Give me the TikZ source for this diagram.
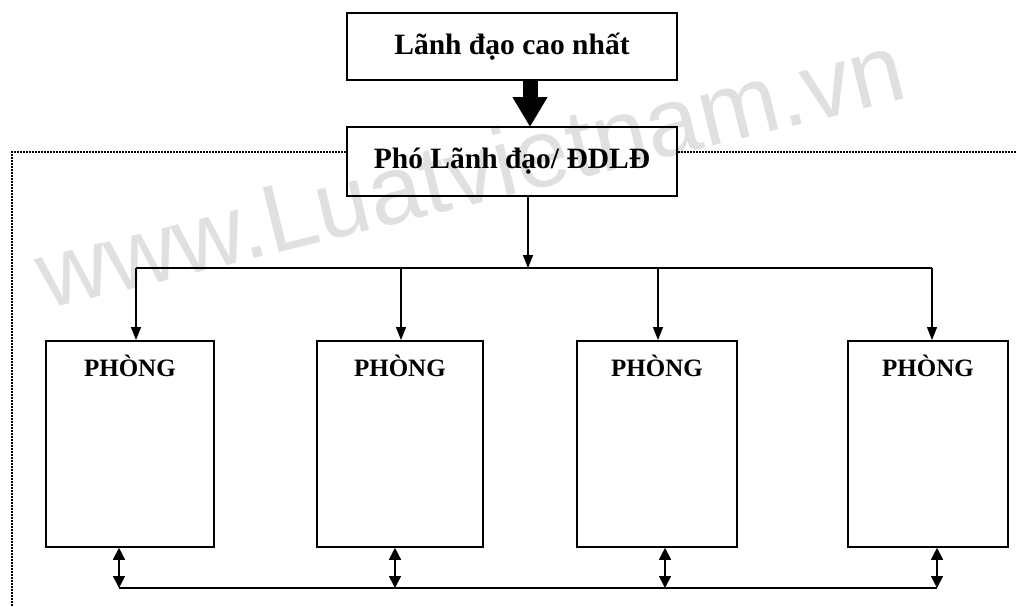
\documentclass[tikz,border=0pt]{standalone}
\usepackage{fontspec}
\setmainfont{Liberation Serif}
\newfontfamily\wmfont{Liberation Sans}
\usetikzlibrary{arrows.meta}
\begin{document}
\begin{tikzpicture}[x=1pt,y=-1pt,
  box/.style={draw,line width=1.8pt,inner sep=0pt},
  lbl/.style={font=\bfseries\fontsize{29.5}{32}\selectfont},
  plbl/.style={font=\bfseries\fontsize{25}{28}\selectfont},
  conn/.style={line width=1.5pt},
  arr/.style={conn,-{Triangle[width=10pt,length=13pt]}},
  dbl/.style={conn,{Triangle[width=12pt,length=12pt]}-{Triangle[width=12pt,length=12pt]}},
  frame/.style={line width=1.8pt,dash pattern=on 1.6pt off 1.4pt}]
\useasboundingbox (0,0) rectangle (1016,606);
\node[rotate=13.8,text=black!12,font=\wmfont\fontsize{97}{100}\selectfont] (wm) at (470,170) {www.Luatvietnam.vn};
% frame
\coordinate (fl) at (12,152);
\coordinate (fr) at (1016,152);
\coordinate (fb) at (12,606);
% top boxes
\node[box,minimum width=330pt,minimum height=67pt] (top) at (512,46.5) {};
\node[lbl] at (top.center) {Lãnh đạo cao nhất};
\node[box,minimum width=330pt,minimum height=69pt] (dep) at (512,161.5) {};
\node[lbl] at (dep.center) {Phó Lãnh đạo/ ĐDLĐ};
\draw[frame] (fb) -- (fl) -- (fl -| dep.west);
\draw[frame] (fr -| dep.east) -- (fr);
% thick arrow
\coordinate (ta) at (530,80);
\coordinate (tb) at (530,127);
\draw[line width=15pt,-{Triangle[width=33pt,length=30pt]}] (ta) -- (tb);
% distribution line
\coordinate (d0) at (528,196);
\coordinate (bus) at (528,268);
\coordinate (b1) at (136,268);
\coordinate (b2) at (401,268);
\coordinate (b3) at (658,268);
\coordinate (b4) at (932,268);
\draw[arr] (d0) -- (bus);
\draw[conn] (b1) -- (b4);
% departments
\foreach \i/\l/\r in {1/45/213,2/316/482,3/576/736,4/847/1007}{
  \node[box,minimum width={\r-\l},minimum height=206pt,anchor=north west] (p\i) at (\l,340) {};
  \node[plbl,anchor=north] (t\i) at ([yshift=-12pt]p\i.north) {PHÒNG};
}
\draw[arr] (b1) -- (b1 |- p1.north);
\draw[arr] (b2) -- (b2 |- p2.north);
\draw[arr] (b3) -- (b3 |- p3.north);
\draw[arr] (b4) -- (b4 |- p4.north);
% bottom bus
\coordinate (c1) at (119,588);
\coordinate (c2) at (395,588);
\coordinate (c3) at (665,588);
\coordinate (c4) at (937,588);
\draw[conn] (c1) -- (c4);
\draw[dbl] (c1 |- p1.south) -- (c1);
\draw[dbl] (c2 |- p2.south) -- (c2);
\draw[dbl] (c3 |- p3.south) -- (c3);
\draw[dbl] (c4 |- p4.south) -- (c4);
\end{tikzpicture}
\end{document}
